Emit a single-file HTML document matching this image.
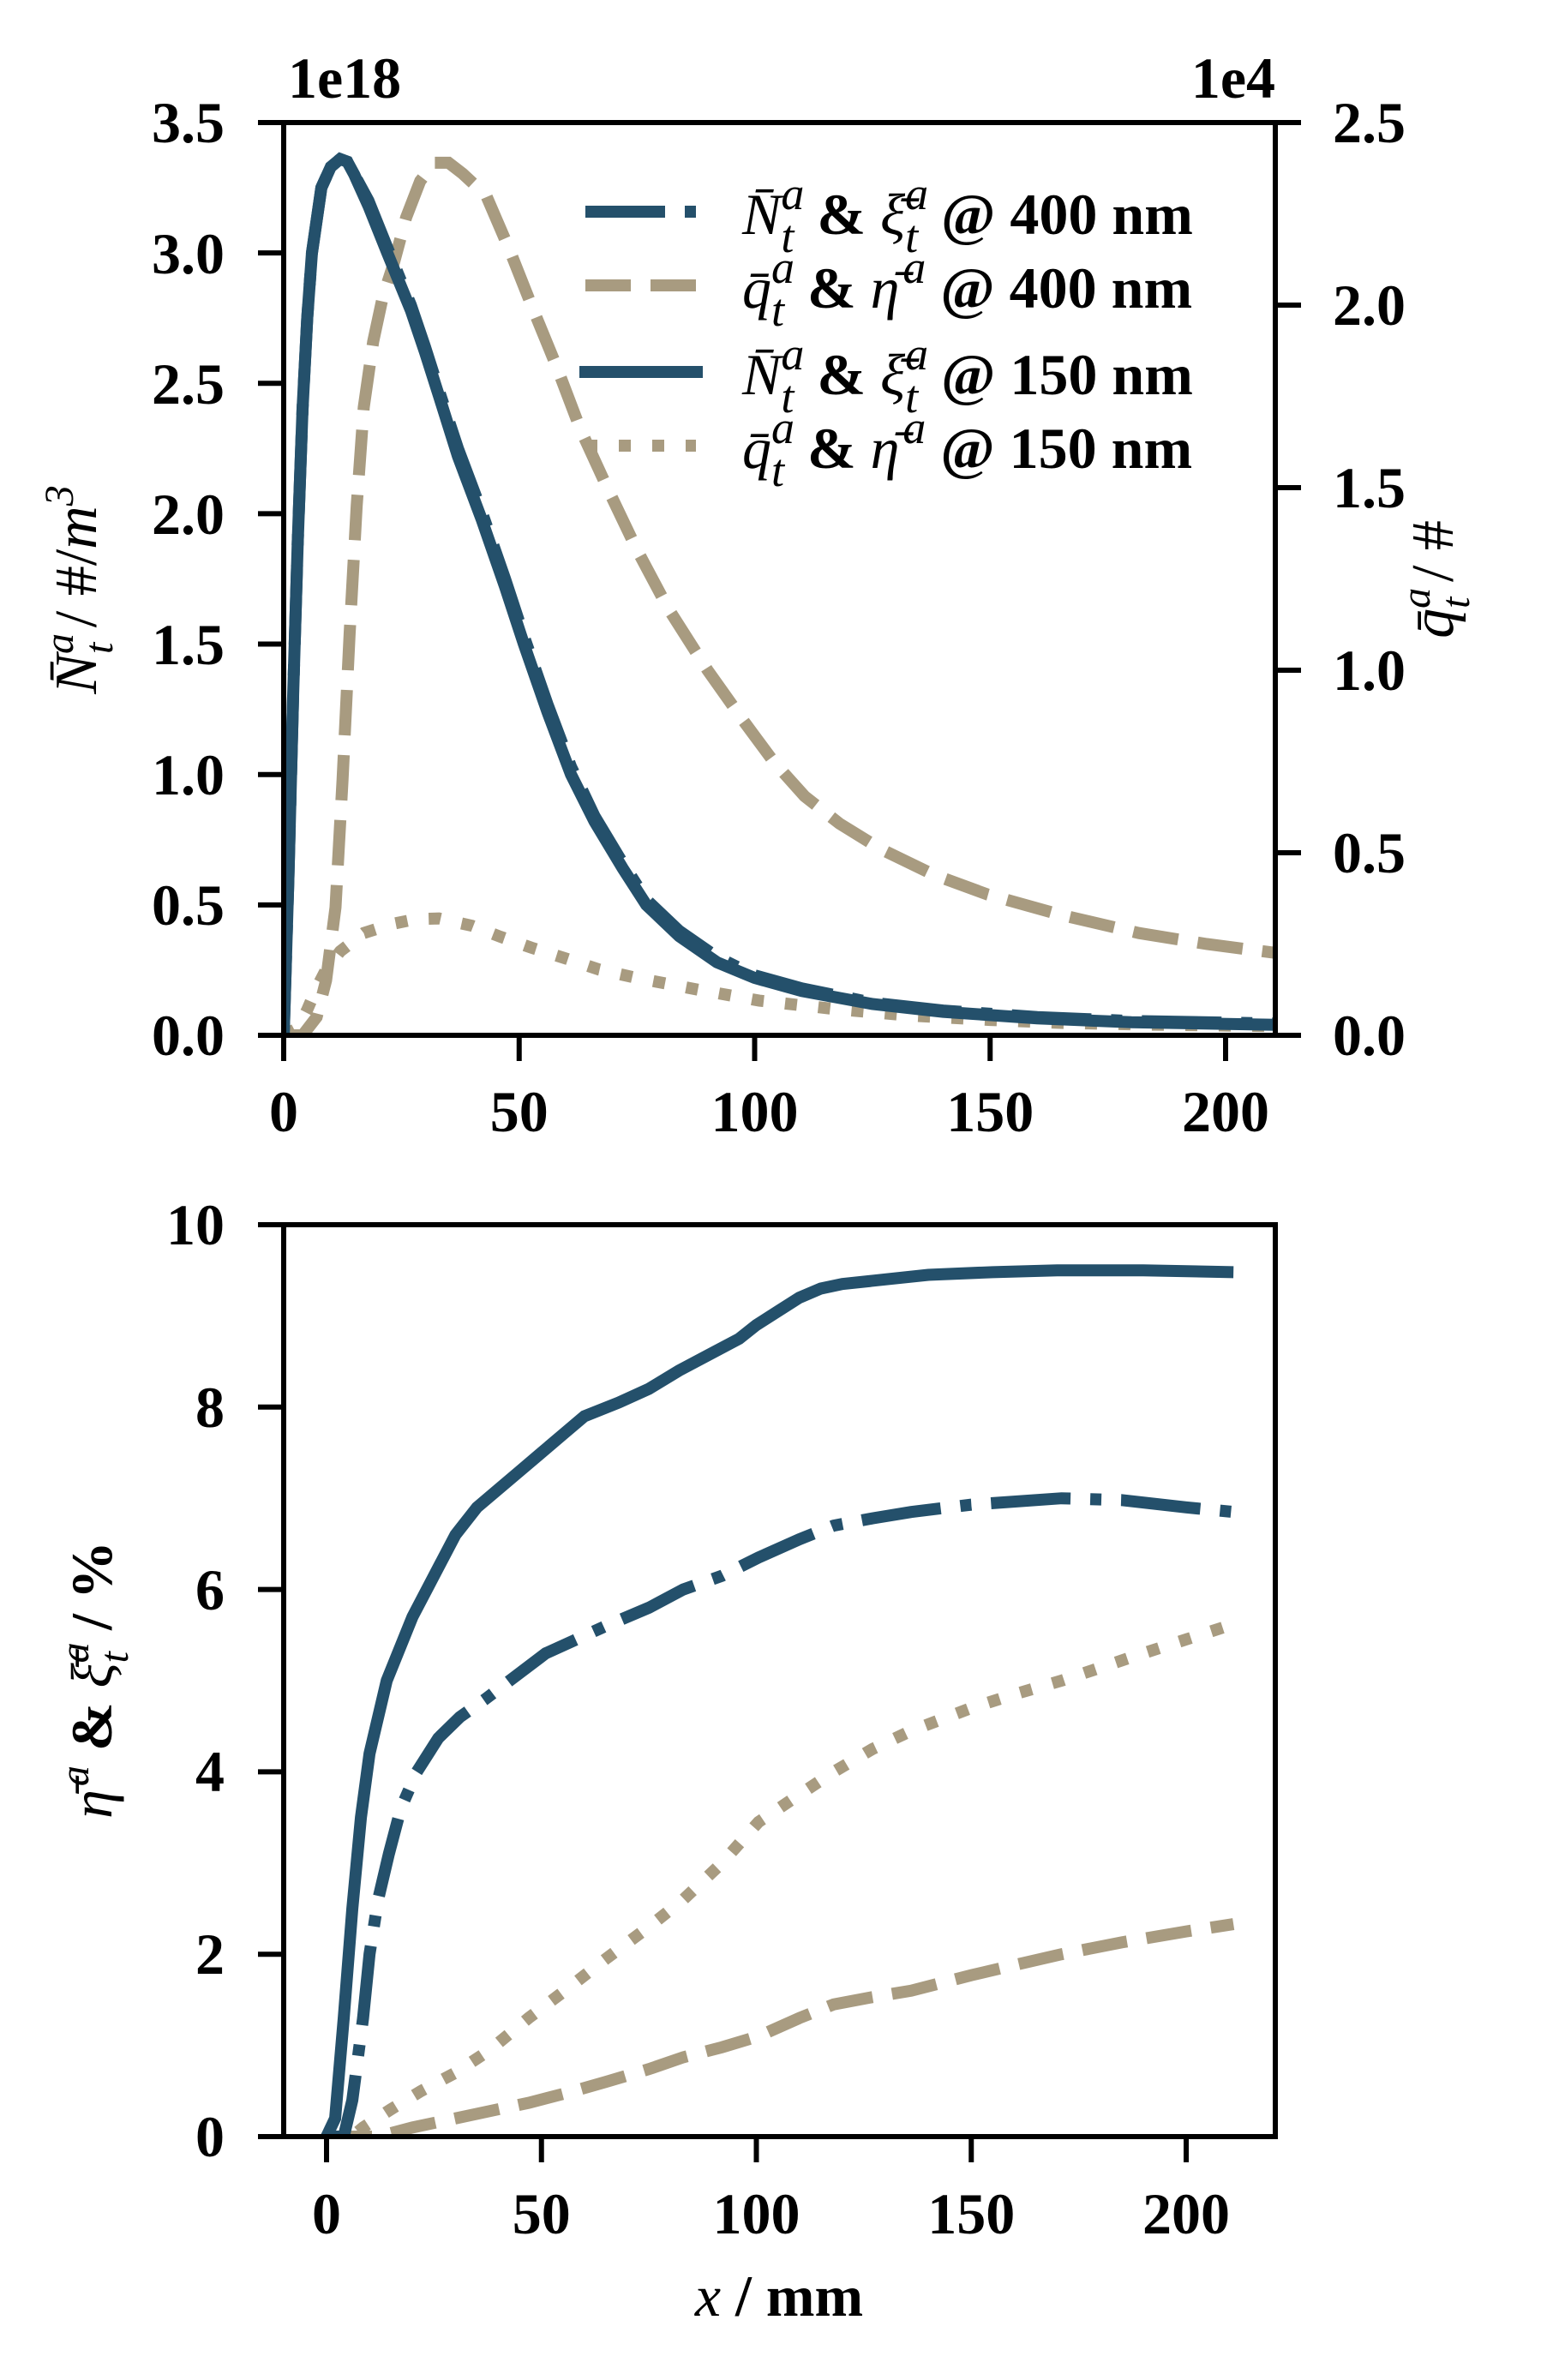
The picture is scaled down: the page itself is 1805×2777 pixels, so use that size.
<!DOCTYPE html>
<html><head><meta charset="utf-8"><style>
html,body{margin:0;padding:0;background:#fff}
svg{display:block}
text{font-family:"Liberation Serif",serif;font-weight:bold;font-size:68px;fill:#000}
.it{font-style:italic;font-weight:normal}
.ln{fill:none;vector-effect:non-scaling-stroke;stroke-width:14}
.b{stroke:#24506B}.t{stroke:#A89B80}
.dash{stroke-dasharray:53 23}
.dd{stroke-dasharray:93 23 13 23}
.dot{stroke-dasharray:14 25}
</style></head><body>
<svg width="1805" height="2777" viewBox="0 0 1805 2777" xmlns="http://www.w3.org/2000/svg">
<defs>
<clipPath id="c1"><rect x="331" y="143" width="1157" height="1065"/></clipPath>
<clipPath id="c2"><rect x="331" y="1429" width="1157" height="1064"/></clipPath>
</defs>

<g clip-path="url(#c1)">
 <g transform="matrix(5.495,0,0,-426,331,1208)">
  <polyline class="ln t dash" points="0,0 4,0 7,0.05 9,0.15 11,0.35 12.5,0.7 14,1.1 15.5,1.45 17,1.72 19,1.9 21,2.02 23.5,2.12 26,2.24 29,2.34 32,2.39 35,2.39 38,2.36 43,2.3 48,2.15 52.6,2.0 58,1.83 63,1.66 68.7,1.5 75,1.33 81.6,1.17 90,1.0 97.7,0.86 104,0.75 110.6,0.655 118,0.58 126.8,0.51 138,0.44 149.4,0.386 165,0.33 181.6,0.28 196,0.25 211,0.225"/>
  <polyline class="ln t dot" points="0,0 3,0.02 5,0.07 7,0.13 9,0.18 12,0.23 17,0.28 23,0.305 28,0.318 33,0.32 40,0.3 46,0.27 52.6,0.24 60,0.21 67,0.18 75,0.157 88,0.125 101,0.095 117,0.072 133,0.054 150,0.042 165,0.034 185,0.029 211,0.025"/>
 </g>
 <g transform="matrix(5.495,0,0,-304.3,331,1208)">
  <polyline class="ln b dd" points="0,0 1,0.6 2,1.3 3,1.9 4,2.4 5,2.75 6,3.0 8,3.25 10,3.33 12,3.36 13.5,3.35 15,3.3 18,3.2 22,3.02 27,2.8 30,2.64 33,2.47 37,2.25 42,2.01 47,1.75 51,1.53 56,1.27 61,1.03 66,0.84 72,0.66 77,0.52 84,0.4 92,0.3 100,0.23 110,0.18 125,0.125 140,0.095 160,0.07 180,0.055 211,0.045"/>
  <polyline class="ln b" points="0,0 1,0.6 2,1.3 3,1.9 4,2.4 5,2.75 6,3.0 8,3.25 10,3.33 12,3.36 13.5,3.35 15,3.3 18,3.18 22,3.0 27,2.78 30,2.62 33,2.45 37,2.22 42,1.98 47,1.72 51,1.5 56,1.24 61,1.0 66,0.82 72,0.64 77,0.5 84,0.38 92,0.28 100,0.22 110,0.17 125,0.12 140,0.09 160,0.065 180,0.05 211,0.04"/>
 </g>
</g>

<g stroke="#000" stroke-width="6" fill="none">
 <rect x="331" y="143" width="1157" height="1065"/>
 <path d="M331,1208v30 M605.75,1208v30 M880.5,1208v30 M1155.25,1208v30 M1430,1208v30"/>
 <path d="M331,1208h-30 M331,1055.85h-30 M331,903.7h-30 M331,751.55h-30 M331,599.4h-30 M331,447.25h-30 M331,295.1h-30 M331,143h-30"/>
 <path d="M1488,1208h30 M1488,995h30 M1488,782h30 M1488,569h30 M1488,356h30 M1488,143h30"/>
</g>
<g text-anchor="end">
 <text x="262" y="1231">0.0</text><text x="262" y="1079">0.5</text><text x="262" y="927">1.0</text>
 <text x="262" y="775">1.5</text><text x="262" y="623">2.0</text><text x="262" y="471">2.5</text>
 <text x="262" y="319">3.0</text><text x="262" y="166">3.5</text>
</g>
<g text-anchor="start">
 <text x="1555" y="1231">0.0</text><text x="1555" y="1018">0.5</text><text x="1555" y="805">1.0</text>
 <text x="1555" y="592">1.5</text><text x="1555" y="379">2.0</text><text x="1555" y="166">2.5</text>
</g>
<g text-anchor="middle">
 <text x="331" y="1320">0</text><text x="605.75" y="1320">50</text><text x="880.5" y="1320">100</text>
 <text x="1155.25" y="1320">150</text><text x="1430" y="1320">200</text>
</g>
<text x="336" y="114">1e18</text>
<text x="1488" y="114" text-anchor="end">1e4</text>

<text transform="translate(112,688) rotate(-90)" text-anchor="middle" class="it" style="font-size:70px">N̄<tspan font-size="48" dy="-27">a</tspan><tspan font-size="48" dx="-24" dy="46">t</tspan><tspan dy="-19" style="font-style:normal"> / #/</tspan>m<tspan font-size="48" dy="-27">3</tspan></text>
<text transform="translate(1695,676) rotate(-90)" text-anchor="middle" class="it" style="font-size:70px">q̄<tspan font-size="48" dy="-27">a</tspan><tspan font-size="48" dx="-24" dy="46">t</tspan><tspan dy="-19" style="font-style:normal"> / #</tspan></text>

<g>
 <line x1="683" y1="247" x2="812" y2="247" class="ln b dd"/>
 <line x1="683" y1="333" x2="812" y2="333" class="ln t dash"/>
 <line x1="676" y1="434" x2="820" y2="434" class="ln b"/>
 <line x1="683" y1="520" x2="812" y2="520" class="ln t dot"/>
 <g style="font-size:77px">
 <text x="866" y="273"><tspan class="it">N̄</tspan><tspan class="it" font-size="54" dy="-29">a</tspan><tspan class="it" font-size="54" dx="-27" dy="50">t</tspan><tspan dy="-21" dx="10"> &amp; </tspan><tspan class="it">ξ̄</tspan><tspan class="it" font-size="54" dy="-29">a</tspan><tspan class="it" font-size="54" dx="-27" dy="50">t</tspan><tspan dy="-21" dx="10"> @ 400 nm</tspan></text>
 <text x="866" y="359"><tspan class="it">q̄</tspan><tspan class="it" font-size="54" dy="-29">a</tspan><tspan class="it" font-size="54" dx="-27" dy="50">t</tspan><tspan dy="-21" dx="10"> &amp; </tspan><tspan class="it">η̄</tspan><tspan class="it" font-size="54" dy="-29" dx="4">a</tspan><tspan dy="29"> @ 400 nm</tspan></text>
 <text x="866" y="460"><tspan class="it">N̄</tspan><tspan class="it" font-size="54" dy="-29">a</tspan><tspan class="it" font-size="54" dx="-27" dy="50">t</tspan><tspan dy="-21" dx="10"> &amp; </tspan><tspan class="it">ξ̄</tspan><tspan class="it" font-size="54" dy="-29">a</tspan><tspan class="it" font-size="54" dx="-27" dy="50">t</tspan><tspan dy="-21" dx="10"> @ 150 nm</tspan></text>
 <text x="866" y="546"><tspan class="it">q̄</tspan><tspan class="it" font-size="54" dy="-29">a</tspan><tspan class="it" font-size="54" dx="-27" dy="50">t</tspan><tspan dy="-21" dx="10"> &amp; </tspan><tspan class="it">η̄</tspan><tspan class="it" font-size="54" dy="-29" dx="4">a</tspan><tspan dy="29"> @ 150 nm</tspan></text>
 </g>
</g>

<g clip-path="url(#c2)">
 <g transform="matrix(5.015,0,0,-106.4,381,2493)">
  <polyline class="ln t dash" points="0,0 12,0 20,0.1 30,0.2 40,0.3 47,0.37 56,0.48 65,0.6 75,0.74 83,0.87 92,0.98 100.5,1.1 110,1.3 118,1.45 127,1.53 136,1.6 150,1.77 160,1.88 171,2.0 185,2.13 200,2.25 211,2.33"/>
  <polyline class="ln t dot" points="0,0 6,0 8.5,0.1 15,0.3 22,0.5 30,0.7 38,0.95 47,1.3 56,1.62 65,1.95 75,2.3 83,2.6 92,3.0 100.5,3.45 110,3.75 118,4.0 127,4.25 136,4.45 150,4.7 160,4.85 171,5.0 190,5.3 211,5.62"/>
  <polyline class="ln b dd" points="0,0 4,0 6,0.4 8.5,1.3 10,2.0 12,2.6 14.5,3.1 17.3,3.6 21,4.0 26,4.37 31,4.6 37,4.8 44,5.05 51,5.3 58,5.45 65,5.6 75,5.8 83,6.0 92,6.15 100.5,6.35 110,6.55 118,6.7 127,6.78 136,6.85 150,6.93 171,7.0 185,6.98 200,6.9 211,6.85"/>
  <polyline class="ln b" points="0,0 2,0.2 4,1.3 6,2.5 8,3.5 10,4.2 14,5.0 20,5.7 25,6.15 30,6.6 35,6.9 40,7.1 45,7.3 50,7.5 55,7.7 60,7.9 68,8.05 75,8.2 82,8.4 90,8.6 96,8.75 100,8.9 105,9.05 110,9.2 115,9.3 120,9.35 130,9.4 140,9.45 155,9.48 170,9.5 190,9.5 211,9.48"/>
 </g>
</g>

<g stroke="#000" stroke-width="6" fill="none">
 <rect x="331" y="1429" width="1157" height="1064"/>
 <path d="M381,2493v30 M631.75,2493v30 M882.5,2493v30 M1133.25,2493v30 M1384,2493v30"/>
 <path d="M331,2493h-30 M331,2280.2h-30 M331,2067.4h-30 M331,1854.6h-30 M331,1641.8h-30 M331,1429h-30"/>
</g>
<g text-anchor="end">
 <text x="262" y="2516">0</text><text x="262" y="2303">2</text><text x="262" y="2090">4</text>
 <text x="262" y="1878">6</text><text x="262" y="1665">8</text><text x="262" y="1452">10</text>
</g>
<g text-anchor="middle">
 <text x="381" y="2606">0</text><text x="631.75" y="2606">50</text><text x="882.5" y="2606">100</text>
 <text x="1133.25" y="2606">150</text><text x="1384" y="2606">200</text>
</g>
<text x="909" y="2702" text-anchor="middle"><tspan class="it">x</tspan> / mm</text>
<text transform="translate(130,1960) rotate(-90)" text-anchor="middle" style="font-size:68px"><tspan class="it">η̄</tspan><tspan class="it" font-size="48" dy="-27" dx="4">a</tspan><tspan dy="27"> &amp; </tspan><tspan class="it">ξ̄</tspan><tspan class="it" font-size="48" dy="-27">a</tspan><tspan class="it" font-size="48" dx="-24" dy="46">t</tspan><tspan dy="-19" dx="8"> / %</tspan></text>
</svg>
</body></html>
